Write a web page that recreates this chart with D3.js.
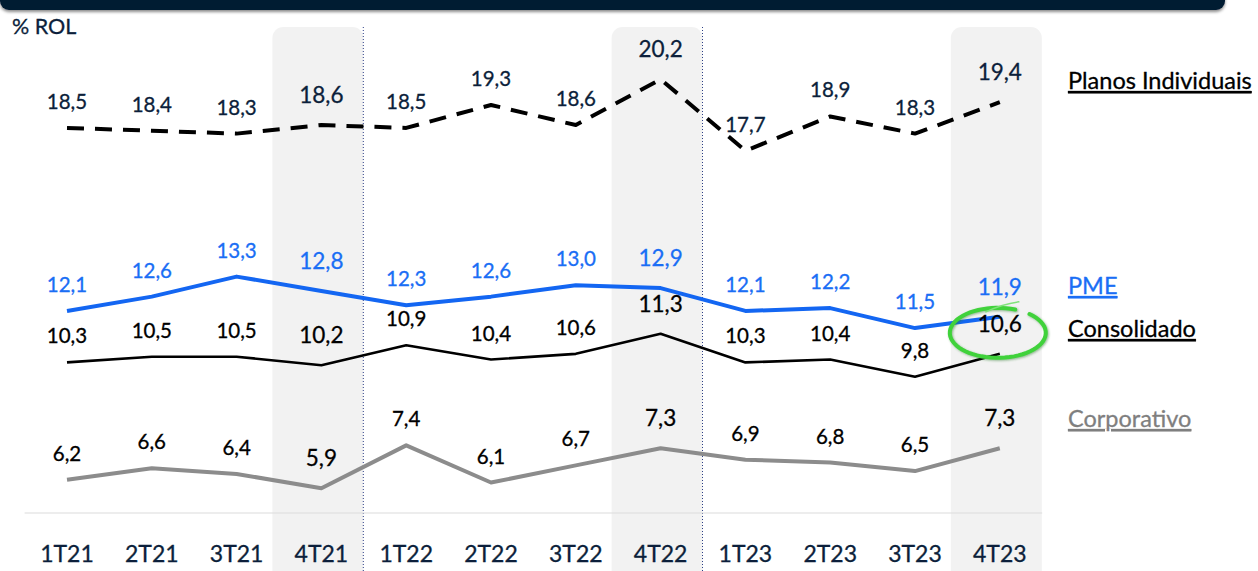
<!DOCTYPE html>
<html>
<head>
<meta charset="utf-8">
<script src="https://cdn.jsdelivr.net/npm/d3@7"></script>
<style>
  body { margin: 0; background: #fff; }
  text { font-family: Lato, "Noto Sans", sans-serif; }
</style>
</head>
<body>
<script>
// categorias e series (% ROL)
var quarters = ["1T21","2T21","3T21","4T21","1T22","2T22","3T22","4T22","1T23","2T23","3T23","4T23"];
var planos = [18.5,18.4,18.3,18.6,18.5,19.3,18.6,20.2,17.7,18.9,18.3,19.4];
var pme = [12.1,12.6,13.3,12.8,12.3,12.6,13.0,12.9,12.1,12.2,11.5,11.9];
var consolidado = [10.3,10.5,10.5,10.2,10.9,10.4,10.6,11.3,10.3,10.4,9.8,10.6];
var corporativo = [6.2,6.6,6.4,5.9,7.4,6.1,6.7,7.3,6.9,6.8,6.5,7.3];
var highlighted = ["4T21","4T22","4T23"];
var yearBreaks = ["4T21","4T22"];

var width = 1258, height = 571;

var svg = d3.select("body").append("svg")
  .attr("width", width).attr("height", height);

var x = d3.scaleBand().domain(quarters).range([24.6, 1042.2]);
var y = d3.scaleLinear().domain([5, 21]).range([514, 56.4]);
var cx = function(q){ return x(q) + x.bandwidth()/2; };

// faixa escura no topo (cortada)
var defs = svg.append("defs");
var sh = defs.append("filter").attr("id","sh").attr("x","-5%").attr("y","-50%").attr("width","110%").attr("height","250%");
sh.append("feDropShadow").attr("dx",0).attr("dy",2).attr("stdDeviation",1.5).attr("flood-color","#000").attr("flood-opacity",0.45);
svg.append("rect").attr("x",0).attr("y",-20).attr("width",1225).attr("height",30)
  .attr("rx",9).attr("fill","#011b33").attr("filter","url(#sh)");

// colunas sombreadas dos 4T
svg.selectAll(".hl").data(highlighted).enter().append("rect")
  .attr("class","hl")
  .attr("x", function(d){ return cx(d) - 49; })
  .attr("y", 27)
  .attr("width", 91)
  .attr("height", 570)
  .attr("rx", 11)
  .attr("fill", "#f2f2f2");

// linhas pontilhadas entre anos
svg.selectAll(".brk").data(yearBreaks).enter().append("line")
  .attr("x1", function(d){ return x(d) + x.bandwidth() - 0.5; })
  .attr("x2", function(d){ return x(d) + x.bandwidth() - 0.5; })
  .attr("y1", 27).attr("y2", height)
  .attr("stroke", "#2d3f86").attr("stroke-width", 1)
  .attr("stroke-dasharray", "1,2");

// eixo x
svg.append("line").attr("x1",24.6).attr("x2",1042.2).attr("y1",513).attr("y2",513)
  .attr("stroke","#dcdcdc").attr("stroke-width",1.2);
var xAxis = svg.append("g").attr("transform","translate(0,513)")
  .call(d3.axisBottom(x).tickSize(0).tickPadding(0));
xAxis.select(".domain").remove();
xAxis.selectAll("text")
  .attr("y", 49).attr("dy", 0)
  .style("font-family", "Lato, 'Noto Sans', sans-serif")
  .style("font-size", "23px").attr("fill", "#0c1f3b")
  .attr("stroke", "#0c1f3b").attr("stroke-width", 0.3);

svg.append("text").attr("x",12).attr("y",34).text("% ROL")
  .attr("font-size",21.5).attr("fill","#0c1f3b")
  .attr("stroke", "#0c1f3b").attr("stroke-width", 0.3);

var series = [
  {name:"Planos Individuais", values: planos, color:"#000", width:4, dash:"17,11", label:"#0c1f3b", legend:"#000", ly:89},
  {name:"PME", values: pme, color:"#1366f2", width:4, dash:null, label:"#1a6ef5", legend:"#1a6ef5", ly:294},
  {name:"Consolidado", values: consolidado, color:"#000", width:2.6, dash:null, label:"#000", legend:"#000", ly:337},
  {name:"Corporativo", values: corporativo, color:"#8c8c8c", width:4, dash:null, label:"#000", legend:"#7f7f7f", ly:427}
];

var line = d3.line()
  .x(function(d){ return cx(d.q); })
  .y(function(d){ return y(d.v); });

series.forEach(function(s){
  var pts = quarters.map(function(q,i){ return {q:q, v:s.values[i]}; });
  svg.append("path").datum(pts)
    .attr("d", line)
    .attr("fill","none")
    .attr("stroke", s.color)
    .attr("stroke-width", s.width)
    .attr("stroke-linejoin","round")
    .attr("stroke-dasharray", s.dash);

  svg.selectAll(null).data(pts).enter().append("text")
    .attr("x", function(d){ return cx(d.q); })
    .attr("y", function(d){ return y(d.v) - (highlighted.indexOf(d.q) >= 0 ? 22 : 19); })
    .attr("text-anchor","middle")
    .attr("font-size", function(d){ return highlighted.indexOf(d.q) >= 0 ? 22.5 : 20.5; })
    .attr("fill", s.label)
    .attr("stroke", s.label).attr("stroke-width", 0.3)
    .text(function(d){ return d3.format(".1f")(d.v).replace(".", ","); });

  svg.append("text").attr("x",1068).attr("y",s.ly)
    .attr("font-size",23.5).attr("fill",s.legend)
    .attr("stroke", s.legend).attr("stroke-width", 0.3)
    .attr("text-decoration","underline")
    .text(s.name);
});

// destaque verde em 4T23 consolidado
var ex = cx("4T23") - 2, ey = y(10.6) - 21;
var ring = d3.path();
var a0 = -1.2, a1 = -1.2 - 2*Math.PI + 0.35;
for (var k = 0; k <= 60; k++) {
  var a = a0 + (a1 - a0) * k/60;
  var px = ex + 48*Math.cos(a), py = ey + 25*Math.sin(a);
  if (k === 0) ring.moveTo(px, py); else ring.lineTo(px, py);
}
var gl = defs.append("filter").attr("id","gl");
gl.append("feDropShadow").attr("dx",1).attr("dy",1).attr("stdDeviation",1.2).attr("flood-color","#2a7a2a").attr("flood-opacity",0.5);
svg.append("path").attr("d", ring.toString()).attr("fill","none")
  .attr("stroke","#3fd23a").attr("stroke-width",4).attr("stroke-linecap","round")
  .attr("filter","url(#gl)");
svg.append("path")
  .attr("d", "M" + (ex - 12) + "," + (ey - 21) + " Q" + (ex + 5) + "," + (ey - 29) + " " + (ex + 21) + "," + (ey - 31))
  .attr("fill","none").attr("stroke","#7fe27a").attr("stroke-width",1.5).attr("stroke-linecap","round");
</script>
</body>
</html>
